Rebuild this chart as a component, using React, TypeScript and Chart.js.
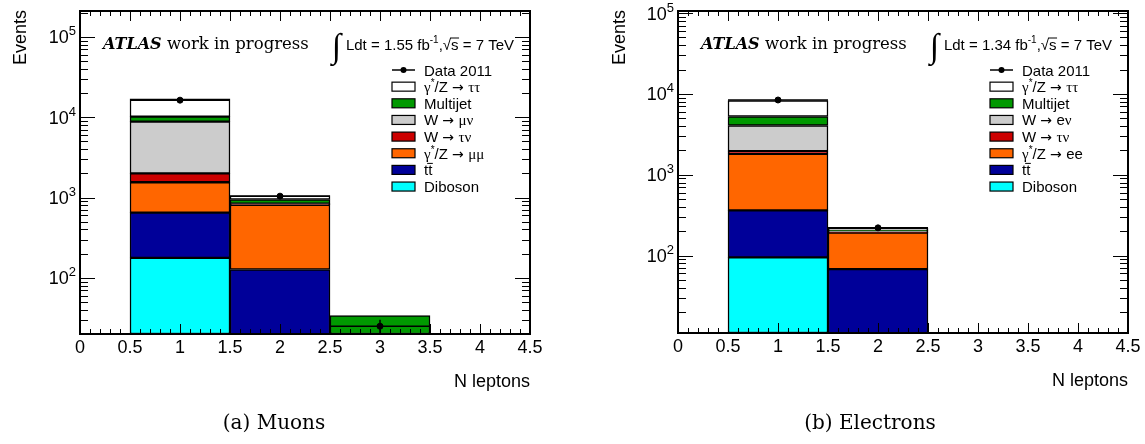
import React, { useEffect, useRef } from "react";
import { Chart, registerables } from "chart.js";

Chart.register(...registerables);

// ---- Histogram binning (N leptons) ----
const binCenters = [1, 2, 3];
const binHalfWidth = 0.5;
const xRange = [0, 4.5];
const xMajorTicks = [0, 0.5, 1, 1.5, 2, 2.5, 3, 3.5, 4, 4.5];
const xTickLabels = ["0", "0.5", "1", "1.5", "2", "2.5", "3", "3.5", "4", "4.5"];
const yMajorExponents = [2, 3, 4, 5];

// ---- Muon channel: per-process yields in each bin ----
const muDiboson = [177, 3, 0];
const muTtbar = [473, 124, 0];
const muZmumu = [900, 683, 0];
const muWtaunu = [450, 5, 0];
const muWmunu = [6820, 25, 0];
const muMultijet = [1350, 105, 34];
const muZtautau = [6730, 110, 0];
const muData = [16300, 1040, 25];
const muDataErr = [128, 32, 5];
const muYRange = [20, 2.1e5];

// ---- Electron channel: per-process yields in each bin ----
const elDiboson = [95, 2, 0];
const elTtbar = [267, 66, 0];
const elZee = [1453, 124, 0];
const elWtaunu = [145, 2, 0];
const elWenu = [2100, 6, 0];
const elMultijet = [1190, 5, 0];
const elZtautau = [3010, 13, 0];
const elData: (number | null)[] = [8400, 220, null];
const elDataErr: (number | null)[] = [92, 15, null];
const elYRange = [11, 1.06e5];

// ---- Process colours ----
const cDiboson = "#00ffff";
const cTtbar = "#000099";
const cZll = "#ff6600";
const cWtaunu = "#cc0000";
const cWlnu = "#cccccc";
const cMultijet = "#009900";
const cZtautau = "#ffffff";

const SANS = '"Liberation Sans", Arial, sans-serif';
const SERIF = '"Liberation Serif", "Times New Roman", serif';
const DSERIF = '"DejaVu Serif", serif';
const ARROWF = '"DejaVu Sans", sans-serif';

type Seg = { text: string; font: string; dy?: number; overline?: number };

const sans = (t: string, size = 15): Seg => ({ text: t, font: `${size}px ${SANS}`, dy: 0 });
const greek = (t: string, size = 15): Seg => ({ text: t, font: `${size}px ${SERIF}`, dy: 0 });
const sup = (t: string, size = 10, dy = -6): Seg => ({ text: t, font: `${size}px ${SANS}`, dy });
const arr = (): Seg => ({ text: "\u2192 ", font: `14px ${ARROWF}`, dy: 0 });

const segsWidth = (ctx: CanvasRenderingContext2D, segs: Seg[]) => {
  let w = 0;
  for (const s of segs) {
    ctx.font = s.font;
    w += ctx.measureText(s.text).width;
  }
  return w;
};

function drawSegs(ctx: CanvasRenderingContext2D, segs: Seg[], x: number, y: number, align: "left" | "right" | "center" = "left") {
  const w = segsWidth(ctx, segs);
  let cx = align === "right" ? x - w : align === "center" ? x - w / 2 : x;
  ctx.textAlign = "left";
  ctx.textBaseline = "alphabetic";
  for (const s of segs) {
    ctx.font = s.font;
    ctx.fillText(s.text, cx, y + (s.dy || 0));
    const sw = ctx.measureText(s.text).width;
    if (s.overline !== undefined) {
      ctx.save();
      ctx.lineWidth = 1;
      ctx.beginPath();
      ctx.moveTo(cx - 1, y - s.overline);
      ctx.lineTo(cx + sw + 0.5, y - s.overline);
      ctx.stroke();
      ctx.restore();
    }
    cx += sw;
  }
}

type Series = { label: Seg[]; color: string; values: number[] };

type Panel = {
  key: string;
  canvasLeft: number;
  canvasWidth: number;
  padding: { left: number; right: number; top: number; bottom: number };
  yRange: number[];
  series: Series[];
  data: (number | null)[];
  dataErr: (number | null)[];
  lumi: string;
  caption: string;
  captionX: number;
  eventsX: number;
};

const muonPanel: Panel = {
  key: "mu",
  canvasLeft: 0,
  canvasWidth: 580,
  padding: { left: 80, right: 50, top: 11, bottom: 110 },
  yRange: muYRange,
  series: [
    { label: [sans("Diboson")], color: cDiboson, values: muDiboson },
    { label: [sans("t"), { ...sans("t"), overline: 12 }], color: cTtbar, values: muTtbar },
    { label: [greek("\u03b3"), sup("*"), sans("/Z "), arr(), greek("\u03bc\u03bc")], color: cZll, values: muZmumu },
    { label: [sans("W "), arr(), greek("\u03c4\u03bd")], color: cWtaunu, values: muWtaunu },
    { label: [sans("W "), arr(), greek("\u03bc\u03bd")], color: cWlnu, values: muWmunu },
    { label: [sans("Multijet")], color: cMultijet, values: muMultijet },
    { label: [greek("\u03b3"), sup("*"), sans("/Z "), arr(), greek("\u03c4\u03c4")], color: cZtautau, values: muZtautau },
  ],
  data: muData,
  dataErr: muDataErr,
  lumi: "1.55",
  caption: "(a) Muons",
  captionX: 274,
  eventsX: 26,
};

const electronPanel: Panel = {
  key: "el",
  canvasLeft: 580,
  canvasWidth: 565,
  padding: { left: 98, right: 17, top: 11, bottom: 111 },
  yRange: elYRange,
  series: [
    { label: [sans("Diboson")], color: cDiboson, values: elDiboson },
    { label: [sans("t"), { ...sans("t"), overline: 12 }], color: cTtbar, values: elTtbar },
    { label: [greek("\u03b3"), sup("*"), sans("/Z "), arr(), sans("ee")], color: cZll, values: elZee },
    { label: [sans("W "), arr(), greek("\u03c4\u03bd")], color: cWtaunu, values: elWtaunu },
    { label: [sans("W "), arr(), sans("e"), greek("\u03bd")], color: cWlnu, values: elWenu },
    { label: [sans("Multijet")], color: cMultijet, values: elMultijet },
    { label: [greek("\u03b3"), sup("*"), sans("/Z "), arr(), greek("\u03c4\u03c4")], color: cZtautau, values: elZtautau },
  ],
  data: elData,
  dataErr: elDataErr,
  lumi: "1.34",
  caption: "(b) Electrons",
  captionX: 290,
  eventsX: 45,
};

function makePlugin(panel: Panel) {
  return {
    id: "atlasDecor",
    afterDatasetsDraw(chart: any) {
      const { ctx, chartArea: a, scales } = chart;
      const xs = scales.x;
      const ys = scales.y;
      ctx.save();
      ctx.beginPath();
      ctx.rect(a.left, a.top, a.right - a.left, a.bottom - a.top);
      ctx.clip();
      ctx.strokeStyle = "#000";
      ctx.lineWidth = 1.5;
      panel.data.forEach((v, i) => {
        if (v == null) return;
        const err = panel.dataErr[i] || 0;
        const y = ys.getPixelForValue(v);
        const xl = xs.getPixelForValue(binCenters[i] - binHalfWidth);
        const xr = xs.getPixelForValue(binCenters[i] + binHalfWidth);
        const xc = xs.getPixelForValue(binCenters[i]);
        ctx.beginPath();
        ctx.moveTo(xl, y);
        ctx.lineTo(xr, y);
        ctx.moveTo(xc, ys.getPixelForValue(v + err));
        ctx.lineTo(xc, ys.getPixelForValue(Math.max(v - err, panel.yRange[0])));
        ctx.stroke();
      });
      ctx.restore();
    },
    afterDraw(chart: any) {
      const { ctx, chartArea: a, scales } = chart;
      const xs = scales.x;
      const ys = scales.y;
      ctx.save();
      ctx.fillStyle = "#000";
      ctx.strokeStyle = "#000";

      // frame
      ctx.lineWidth = 2;
      ctx.strokeRect(a.left, a.top, a.right - a.left, a.bottom - a.top);

      // x ticks (inside, top and bottom)
      ctx.lineWidth = 1;
      ctx.beginPath();
      for (let k = 0; k <= 45; k++) {
        const v = k / 10;
        const px = Math.round(xs.getPixelForValue(v)) + 0.5;
        const len = k % 5 === 0 ? 10 : 5;
        ctx.moveTo(px, a.bottom);
        ctx.lineTo(px, a.bottom - len);
        ctx.moveTo(px, a.top);
        ctx.lineTo(px, a.top + len);
      }
      // y ticks (log, inside, left and right)
      const [ymin, ymax] = panel.yRange;
      for (let d = Math.floor(Math.log10(ymin)); d <= Math.ceil(Math.log10(ymax)); d++) {
        for (let m = 1; m <= 9; m++) {
          const v = m * Math.pow(10, d);
          if (v < ymin || v > ymax) continue;
          const py = Math.round(ys.getPixelForValue(v)) + 0.5;
          const len = m === 1 ? 15 : 8;
          ctx.moveTo(a.left, py);
          ctx.lineTo(a.left + len, py);
          ctx.moveTo(a.right, py);
          ctx.lineTo(a.right - len, py);
        }
      }
      ctx.stroke();

      // x tick labels
      ctx.font = `18px ${SANS}`;
      ctx.textAlign = "center";
      ctx.textBaseline = "alphabetic";
      xMajorTicks.forEach((v, i) => {
        ctx.fillText(xTickLabels[i], xs.getPixelForValue(v), a.bottom + 19);
      });

      // y tick labels 10^n
      yMajorExponents.forEach((e) => {
        const py = ys.getPixelForValue(Math.pow(10, e));
        drawSegs(ctx, [sans("10", 18), sup(String(e), 13, -8)], a.left - 4, py + 6.5, "right");
      });

      // axis titles
      ctx.font = `18px ${SANS}`;
      ctx.textAlign = "right";
      ctx.fillText("N leptons", a.right, a.bottom + 53);
      ctx.save();
      ctx.translate(panel.eventsX, a.top - 1);
      ctx.rotate(-Math.PI / 2);
      ctx.textAlign = "right";
      ctx.fillText("Events", 0, 0);
      ctx.restore();

      // ATLAS label
      drawSegs(
        ctx,
        [
          { text: "ATLAS", font: `italic bold 16px ${DSERIF}` },
          { text: " work in progress", font: `16.5px ${DSERIF}` },
        ],
        a.left + 23,
        49,
        "left"
      );

      // luminosity and energy
      const lumiSegs: Seg[] = [
        sans(`Ldt = ${panel.lumi} fb`, 15),
        sup("-1", 10, -7),
        sans(",", 15),
        sans("\u221a", 15),
        { ...sans("s", 15), overline: 12 },
        sans(" = 7 TeV", 15),
      ];
      const lumiRight = a.right - 16;
      const lumiW = segsWidth(ctx, lumiSegs);
      drawSegs(ctx, lumiSegs, lumiRight, 50, "right");
      ctx.font = `34px ${SERIF}`;
      ctx.textAlign = "right";
      ctx.fillText("\u222b", lumiRight - lumiW - 5, 57);

      // legend
      const lx0 = a.right - 138;
      const lw = 23;
      const tx = a.right - 106;
      const entries = [null, ...panel.series.slice().reverse()];
      entries.forEach((s, i) => {
        const cy = 70 + i * 16.65;
        if (s === null) {
          ctx.lineWidth = 1.5;
          ctx.beginPath();
          ctx.moveTo(lx0, cy);
          ctx.lineTo(lx0 + lw, cy);
          ctx.stroke();
          ctx.beginPath();
          ctx.arc(lx0 + lw / 2, cy, 3, 0, Math.PI * 2);
          ctx.fill();
          drawSegs(ctx, [sans("Data 2011")], tx, cy + 5.5, "left");
        } else {
          ctx.fillStyle = s.color;
          ctx.fillRect(lx0, cy - 4.5, lw, 9);
          ctx.fillStyle = "#000";
          ctx.lineWidth = 1.2;
          ctx.strokeRect(lx0, cy - 4.5, lw, 9);
          drawSegs(ctx, s.label, tx, cy + 5.5, "left");
        }
      });

      // sub-figure caption
      ctx.font = `20px ${DSERIF}`;
      ctx.textAlign = "center";
      ctx.fillText(panel.caption, panel.captionX, 429);
      ctx.restore();
    },
  };
}

function makeConfig(panel: Panel): any {
  const dataPoints = panel.data
    .map((v, i) => (v == null ? null : { x: binCenters[i], y: v }))
    .filter((p) => p !== null);
  const datasets: any[] = [
    {
      type: "scatter",
      label: "Data 2011",
      data: dataPoints,
      pointRadius: 3,
      pointHoverRadius: 3,
      backgroundColor: "#000",
      borderColor: "#000",
      showLine: false,
      stack: "data",
      order: 0,
    },
    ...panel.series.map((s) => ({
      type: "bar",
      data: s.values.map((v, i) => ({ x: binCenters[i], y: v })),
      backgroundColor: s.color,
      borderColor: "#000",
      borderWidth: 1.5,
      borderSkipped: false,
      barThickness: "flex",
      categoryPercentage: 1,
      barPercentage: 1,
      stack: "mc",
      order: 1,
    })),
  ];
  return {
    type: "bar",
    data: { datasets },
    options: {
      animation: false,
      responsive: false,
      devicePixelRatio: 1,
      events: [],
      layout: { padding: panel.padding },
      plugins: { legend: { display: false }, tooltip: { enabled: false } },
      scales: {
        x: { type: "linear", min: xRange[0], max: xRange[1], display: false, offset: false },
        y: { type: "logarithmic", min: panel.yRange[0], max: panel.yRange[1], stacked: true, display: false },
      },
    },
    plugins: [makePlugin(panel)],
  };
}

function PanelChart({ panel }: { panel: Panel }) {
  const ref = useRef<HTMLCanvasElement>(null);
  useEffect(() => {
    if (!ref.current) return;
    const chart = new Chart(ref.current, makeConfig(panel));
    return () => chart.destroy();
  }, [panel]);
  return (
    <canvas
      ref={ref}
      width={panel.canvasWidth}
      height={444}
      style={{ position: "absolute", left: panel.canvasLeft, top: 0, width: panel.canvasWidth, height: 444 }}
    />
  );
}

export default function App() {
  return (
    <div style={{ position: "fixed", left: 0, top: 0, width: 1145, height: 444, background: "#fff" }}>
      <PanelChart panel={muonPanel} />
      <PanelChart panel={electronPanel} />
    </div>
  );
}
